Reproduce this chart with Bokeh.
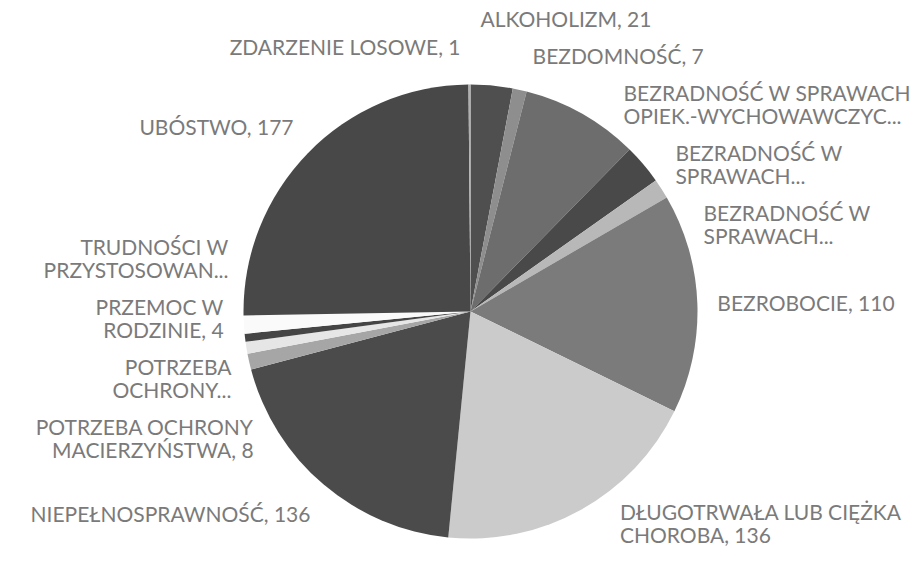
import math
from bokeh.plotting import figure
from bokeh.models import Range1d, ColumnDataSource
from bokeh.embed import file_html
from bokeh.resources import INLINE
from bokeh.core.properties import value

# ---- data ----
labels = [
    "ALKOHOLIZM, 21",
    "BEZDOMNOŚĆ, 7",
    "BEZRADNOŚĆ W SPRAWACH\nOPIEK.-WYCHOWAWCZYC...",
    "BEZRADNOŚĆ W\nSPRAWACH...",
    "BEZRADNOŚĆ W\nSPRAWACH...",
    "BEZROBOCIE, 110",
    "DŁUGOTRWAŁA LUB CIĘŻKA\nCHOROBA, 136",
    "NIEPEŁNOSPRAWNOŚĆ, 136",
    "POTRZEBA OCHRONY\nMACIERZYŃSTWA, 8",
    "POTRZEBA\nOCHRONY...",
    "PRZEMOC W\nRODZINIE, 4",
    "TRUDNOŚCI W\nPRZYSTOSOWAN...",
    "UBÓSTWO, 177",
    "ZDARZENIE LOSOWE, 1",
]
values = [21, 7, 59, 20, 10, 110, 136, 136, 8, 6, 4, 9, 177, 1]
colors = ["#4f4f4f", "#8e8e8e", "#6d6d6d", "#494949", "#b8b8b8", "#7b7b7b",
          "#cbcbcb", "#4b4b4b", "#a6a6a6", "#e6e6e6", "#454545", "#fafafa",
          "#484848", "#b0b0b0"]

# ---- layout (window pixels) ----
W, H = 913, 552
OX, OY = 0, 0
CX, CY, R = 470, 311, 227
LA, LB = 247, 265          # label ellipse
LINE_H, GAP = 23, 14
TOP_LIM, BOT_LIM = 6, 545
FONT = "Lato"
FSIZE = "21px"
TCOLOR = "#7a7a7a"

def dx_(wx):
    return wx - OX

def dy_(wy):
    return (H + OY) - wy

total = float(sum(values))
cum = 0.0
starts, ends, mids = [], [], []
for v in values:
    a0 = cum / total * 2 * math.pi
    cum += v
    a1 = cum / total * 2 * math.pi
    starts.append(math.pi / 2 - a0)
    ends.append(math.pi / 2 - a1)
    mids.append((a0 + a1) / 2)

p = figure(width=W, height=H, output_backend="svg", toolbar_location=None,
           x_range=Range1d(0, W), y_range=Range1d(0, H), min_border=0)
p.axis.visible = False
p.grid.visible = False
p.outline_line_color = None

src = ColumnDataSource(dict(start=starts, end=ends, color=colors))
p.wedge(x=dx_(CX), y=dy_(CY), radius=R, start_angle="start", end_angle="end",
        direction="clock", fill_color="color", line_color=None, source=src)

# ---- label placement ----
items = []
for i, (lab, th) in enumerate(zip(labels, mids)):
    lines = lab.split("\n")
    side = 1 if math.sin(th) >= 0 else -1
    want = CY - LB * math.cos(th)
    items.append(dict(i=i, lines=lines, side=side, want=want, h=len(lines) * LINE_H))

placed = {}
for side in (1, -1):
    its = sorted([it for it in items if it["side"] == side], key=lambda d: d["want"])
    clusters = [[it] for it in its]

    def layout(cl):
        offs, t = [], 0.0
        for it in cl:
            offs.append(t + it["h"] / 2)
            t += it["h"] + GAP
        height = t - GAP
        top = sum(it["want"] for it in cl) / len(cl) - sum(offs) / len(offs)
        top = max(TOP_LIM, min(BOT_LIM - height, top))
        return top, height, [top + o for o in offs]

    changed = True
    while changed:
        changed = False
        for k in range(len(clusters) - 1):
            t1, h1, _ = layout(clusters[k])
            t2, h2, _ = layout(clusters[k + 1])
            if t1 + h1 + GAP > t2:
                clusters[k] = clusters[k] + clusters[k + 1]
                del clusters[k + 1]
                changed = True
                break
    for cl in clusters:
        _, _, ys = layout(cl)
        for it, y in zip(cl, ys):
            placed[it["i"]] = y

rx, ry, rt, lx, ly, lt = [], [], [], [], [], []
for it in items:
    yc = placed[it["i"]]
    d = (yc - CY) / LB
    dxp = LA * math.sqrt(max(0.0, 1 - d * d))
    dxp = max(dxp, 10)
    x = CX + it["side"] * dxp
    n = len(it["lines"])
    for j, line in enumerate(it["lines"]):
        y = yc + (j - (n - 1) / 2) * LINE_H
        if it["side"] > 0:
            rx.append(dx_(x)); ry.append(dy_(y)); rt.append(line)
        else:
            lx.append(dx_(x)); ly.append(dy_(y)); lt.append(line)

common = dict(text_font=value(FONT), text_font_size=FSIZE, text_color=TCOLOR,
              text_baseline="middle")
p.text(x=rx, y=ry, text=rt, text_align="left", **common)
p.text(x=lx, y=ly, text=lt, text_align="right", **common)

open("out.html", "w").write(file_html(p, INLINE))
